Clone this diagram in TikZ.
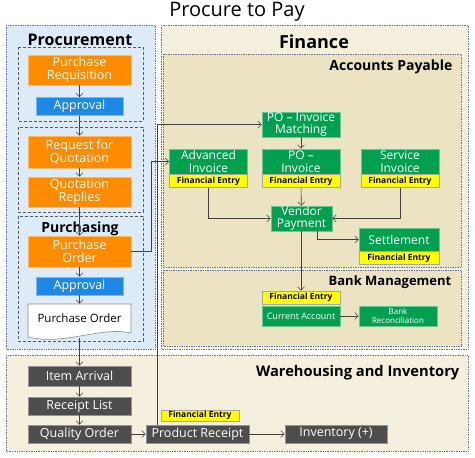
\documentclass[tikz,border=0pt]{standalone}
\usepackage{fontspec}
\setmainfont{Open Sans}
\usetikzlibrary{arrows.meta}
\definecolor{procblue}{RGB}{221,235,248}
\definecolor{finbeige}{RGB}{245,240,222}
\definecolor{apbeige}{RGB}{236,227,194}
\definecolor{boxorange}{RGB}{255,140,0}
\definecolor{boxblue}{RGB}{30,136,229}
\definecolor{boxgreen}{RGB}{0,160,80}
\definecolor{boxgray}{RGB}{77,77,77}
\definecolor{feyellow}{RGB}{255,255,0}
\definecolor{wire}{RGB}{64,64,64}
\definecolor{panelline}{RGB}{95,115,150}
\tikzset{
  >={Straight Barb[length=3.5pt,width=7pt]},
  every picture/.style={line width=0.6pt},
  panel/.style={draw=panelline,densely dotted,line width=0.7pt},
  grp/.style={draw=black!65,densely dashed,line width=0.5pt},
  bx/.style={inner sep=0pt,align=center,text=white,font=\fontsize{12.5}{13}\selectfont},
  ob/.style={bx,fill=boxorange,draw=boxorange!60!white,minimum width=103pt},
  ab/.style={bx,fill=boxblue,draw=boxblue!60!white,minimum width=87pt,minimum height=18pt},
  gb/.style={bx,fill=boxgreen,draw=boxgreen!60!white,minimum width=78pt,minimum height=25pt,font=\fontsize{12}{12.5}\selectfont},
  kb/.style={bx,fill=boxgray,draw=boxgray!60!white,minimum width=103pt,minimum height=18pt},
  fe/.style={inner sep=0pt,fill=feyellow,draw=black!35,font=\fontsize{8.5}{9}\selectfont\bfseries,minimum width=78pt,minimum height=13pt},
  hd/.style={font=\fontsize{15}{16}\selectfont\bfseries},
  wr/.style={->,draw=wire},
}
\begin{document}
\begin{tikzpicture}[x=1pt,y=-1pt]
\useasboundingbox (0,0) rectangle (475,458);
% panels
\draw[panel,fill=procblue] (6,25) rectangle (155,349);
\draw[panel,fill=finbeige] (161,25) rectangle (468,349);
\draw[panel,fill=apbeige] (163,54) rectangle (461,267);
\draw[panel,fill=apbeige] (163,270) rectangle (461,346);
\draw[panel,fill=finbeige] (6,355) rectangle (468,451);
\draw[grp] (18,47) rectangle (143,121);
\draw[grp] (18,127) rectangle (143,212);
\draw[grp] (18,216) rectangle (143,341);
% headings
\node[font=\fontsize{20}{22}\selectfont] (title) at (237,12) {Procure to Pay};
\node[hd,font=\fontsize{16}{17}\selectfont\bfseries] (hProc) at (80,40) {Procurement};
\node[hd,font=\fontsize{14}{15}\selectfont\bfseries] (hPurch) at (80,229) {Purchasing};
\node[hd,font=\fontsize{18}{19}\selectfont\bfseries] (hFin) at (314,42) {Finance};
\node[hd,font=\fontsize{14}{15}\selectfont\bfseries,anchor=east] (hAP) at (456,67) {Accounts Payable};
\node[hd,font=\fontsize{13}{14}\selectfont\bfseries,anchor=east] (hBank) at (455,282) {Bank Management};
\node[hd,font=\fontsize{14.7}{16}\selectfont\bfseries,anchor=east] (hWare) at (463,373) {Warehousing and Inventory};
% procurement
\node[ob,minimum height=30pt] (PReq) at (79.5,70) {Purchase\\Requisition};
\node[ab] (Appr1) at (79.5,106.5) {Approval};
\node[ob,minimum height=32pt] (RFQ) at (79.5,152) {Request for\\Quotation};
\node[ob,minimum height=30pt] (QRep) at (79.5,192) {Quotation\\Replies};
\node[ob,minimum height=31pt] (POrd) at (79.5,251.5) {Purchase\\Order};
\node[ab] (Appr2) at (79.5,286) {Approval};
\draw[draw=black!45,fill=white] (28,304) -- (131,304) -- (131,333) .. controls (100,326) and (65,346) .. (28,337) -- cycle;
\node[bx,text=black,minimum width=103pt,minimum height=28pt,font=\fontsize{11.5}{12}\selectfont] (PODoc) at (79.5,318) {Purchase Order};
\coordinate (docB) at (79.5,338);
% warehousing
\node[kb,minimum height=20pt] (ItemArr) at (79.5,376) {Item Arrival};
\node[kb] (RecList) at (79.5,406) {Receipt List};
\node[kb] (QOrd) at (79.5,434) {Quality Order};
\node[kb] (ProdRec) at (197.5,434) {Product Receipt};
\node[fe,minimum height=11pt] (feProd) at (200,415.5) {Financial Entry};
\node[kb,minimum width=102pt] (Inv) at (336,434) {Inventory (+)};
% accounts payable
\node[gb] (Match) at (301,124.5) {PO – Invoice\\Matching};
\node[gb] (AdvInv) at (208.5,161.5) {Advanced\\Invoice};
\node[fe,anchor=north] (feAdv) at (AdvInv.south) {Financial Entry};
\node[gb] (POInv) at (301,161.5) {PO –\\Invoice};
\node[fe,anchor=north] (fePO) at (POInv.south) {Financial Entry};
\node[gb] (SvcInv) at (400,161.5) {Service\\Invoice};
\node[fe,anchor=north] (feSvc) at (SvcInv.south) {Financial Entry};
\node[gb,minimum width=61pt] (Vendor) at (301.5,218.5) {Vendor\\Payment};
\node[gb,minimum width=80pt,minimum height=23pt] (Settle) at (399,239.5) {Settlement};
\node[fe,anchor=north,minimum width=80pt] (feSet) at (Settle.south) {Financial Entry};
% bank management
\node[fe] (feBank) at (301,297.5) {Financial Entry};
\node[gb,minimum height=20pt,font=\fontsize{9}{10}\selectfont] (CurAcc) at (301,316) {Current Account};
\node[gb,minimum height=20pt,font=\fontsize{8}{8.5}\selectfont] (BankRec) at (398,316) {Bank\\Reconciliation};
% connectors
\draw[wr] (PReq) -- (Appr1);
\draw[wr] (Appr1) -- (RFQ);
\draw[wr] (RFQ) -- (QRep);
\draw[wr] (QRep) -- (POrd);
\draw[wr] (POrd) -- (Appr2);
\draw[wr] (Appr2) -- (PODoc);
\draw[wr] (docB) -- (ItemArr);
\draw[wr] (ItemArr) -- (RecList);
\draw[wr] (RecList) -- (QOrd);
\draw[wr] (QOrd) -- (ProdRec);
\draw[wr] (ProdRec) -- (Inv);
\draw[wr] (POrd.east) -- ++(20,0) |- (AdvInv.west);
\draw[wr] ([xshift=-40.5pt]ProdRec.north) |- (Match.west);
\draw[wr] (Match) -- (POInv);
\draw[wr] (fePO) -- (Vendor);
\draw[wr] (feAdv.south) |- (Vendor.west);
\draw[wr] (feSvc.south) |- (Vendor.east);
\draw[wr] ([xshift=15.5pt]Vendor.south) |- (Settle.west);
\draw[wr] ([xshift=-0.5pt]Vendor.south) -- (feBank.north);
\draw[wr] (CurAcc) -- (BankRec);
\end{tikzpicture}
\end{document}
